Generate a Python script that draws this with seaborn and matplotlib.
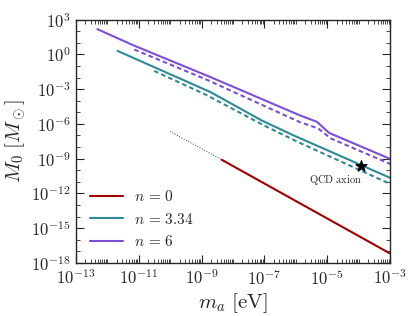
import numpy as np
import pandas as pd
import matplotlib
matplotlib.use("Agg")
import matplotlib.pyplot as plt
import matplotlib.ticker as mticker
import seaborn as sns

# values (m_a in eV, M_0 in solar masses)
m_n6 = [4.8e-13, 6.6e-12, 1.9e-9, 1.35e-6, 4.7e-6, 1.15e-5, 1e-3]
M_n6 = [1.5e2, 6.2, 1.1e-2, 5.4e-6, 1.5e-6, 1.65e-7, 9.5e-10]
m_n6_dash = [7.2e-12, 1.6e-9, 1.35e-6, 5.1e-6, 1.3e-5, 1e-3]
M_n6_dash = [2.6, 5.8e-3, 1.4e-6, 4.1e-7, 5.5e-8, 3.5e-10]

m_n334 = [2.1e-12, 1.9e-9, 8.1e-8, 7.9e-7, 1e-3]
M_n334 = [2.0, 5.6e-4, 2.0e-6, 1.1e-7, 2.2e-11]
m_n334_dash = [3.1e-11, 1.3e-9, 1.0e-7, 1.25e-6, 1e-3]
M_n334_dash = [3.7e-2, 3.5e-4, 7.0e-7, 2.5e-8, 6.6e-12]

m_n0 = [4.4e-9, 1e-3]
M_n0 = [7.9e-10, 6.5e-18]
m_n0_dot = [1e-10, 4.4e-9]
M_n0_dot = [2.2e-7, 7.9e-10]

m_qcd = [1.2e-4]
M_qcd = [2.2e-10]

legend_labels = [r"$n\,=\,0$", r"$n\,=\,3.34$", r"$n\,=\,6$"]
c_red, c_teal, c_purple = "#a00000", "#2e8b96", "#7b4fd6"

sns.set_style("ticks")
plt.rcParams["font.family"] = ["serif"]
plt.rcParams["font.serif"] = ["cmr10", "DejaVu Serif"]
plt.rcParams["mathtext.fontset"] = "cm"
plt.rcParams["axes.formatter.use_mathtext"] = True

fig = plt.figure(figsize=(4.15, 3.16), dpi=100)
ax = fig.add_axes([0.183, 0.168, 0.757, 0.770])
ax.set_xscale("log")
ax.set_yscale("log")

sns.lineplot(x=m_n0_dot, y=M_n0_dot, ax=ax, color="0.25", lw=0.7, linestyle=":", sort=False)
sns.lineplot(x=m_n0, y=M_n0, ax=ax, color=c_red, lw=1.5, sort=False, label=legend_labels[0])
sns.lineplot(x=m_n334, y=M_n334, ax=ax, color=c_teal, lw=1.5, sort=False, label=legend_labels[1])
sns.lineplot(x=m_n6, y=M_n6, ax=ax, color=c_purple, lw=1.5, sort=False, label=legend_labels[2])
sns.lineplot(x=m_n334_dash, y=M_n334_dash, ax=ax, color=c_teal, lw=1.5, sort=False)
sns.lineplot(x=m_n6_dash, y=M_n6_dash, ax=ax, color=c_purple, lw=1.5, sort=False)
for ln in ax.lines[-2:]:
    ln.set_dashes((2.2, 1.5))

ax.scatter(m_qcd, M_qcd, marker="*", s=65, color="black", zorder=5)
ax.text(1.8e-5, 1.3e-11, r"$\mathrm{QCD\ axion}$", fontsize=7.5, ha="center", va="center")

ax.set_xlim(1e-13, 1e-3)
ax.set_ylim(1e-18, 1e3)
ax.set_xticks(10.0 ** np.arange(-13, -2, 2))
ax.xaxis.set_minor_locator(mticker.LogLocator(base=10, subs=np.arange(1, 10), numticks=30))
ax.xaxis.set_minor_formatter(mticker.NullFormatter())
ax.set_yticks(10.0 ** np.arange(-18, 4, 3))
ax.yaxis.set_minor_locator(mticker.FixedLocator(10.0 ** np.arange(-18, 4)))
ax.yaxis.set_minor_formatter(mticker.NullFormatter())
ax.tick_params(which="both", direction="in", top=True, right=True, labelsize=12, pad=4)
ax.tick_params(which="major", length=6, width=0.8)
ax.tick_params(which="minor", length=3, width=0.6)
for s in ax.spines.values():
    s.set_linewidth(1.0)

ax.set_xlabel(r"$m_a\ [\mathrm{eV}]$", fontsize=15, labelpad=2)
ax.set_ylabel(r"$M_0\ [M_\odot]$", fontsize=15, labelpad=2)

ax.legend(loc="lower left", frameon=False, fontsize=11, handlelength=2.2,
          handletextpad=0.7, borderaxespad=0.5, labelspacing=0.5)

fig.savefig("out.png", dpi=100)
